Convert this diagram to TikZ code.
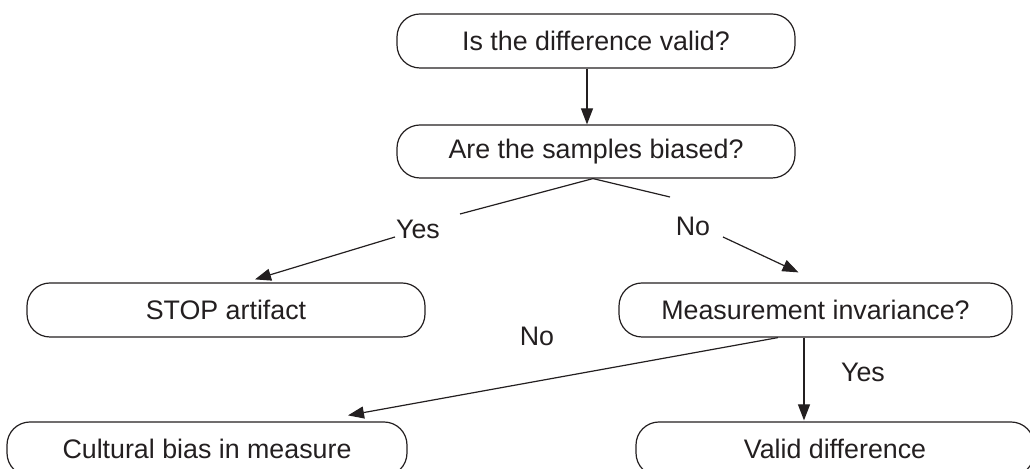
\documentclass[tikz,border=0pt]{standalone}
\usepackage{fontspec}
\setmainfont{Liberation Sans}
\usetikzlibrary{arrows.meta,calc}
\definecolor{ink}{HTML}{231F20}
\begin{document}
\begin{tikzpicture}[x=0.5pt,y=-0.5pt,
  box/.style={draw=ink,line width=0.6pt,rounded corners=11.5pt,minimum height=27pt,inner sep=0pt,
    font=\fontsize{13.4}{15}\selectfont,text=ink},
  lbl/.style={font=\fontsize{13.4}{15}\selectfont,text=ink,inner sep=0pt},
  conn/.style={draw=ink,line width=0.6pt},
  arr/.style={conn,-{Triangle[length=8pt,width=6pt]}}]
\useasboundingbox (0,0) rectangle (1030,469);
\node[box,minimum width=199pt] (top) at (596,41) {Is the difference valid?};
\node[box,minimum width=199pt,minimum height=26.5pt] (samp) at (596,151.5) {Are the samples biased?};
\node[box,minimum width=199pt] (stop) at (226,310) {STOP artifact};
\node[box,minimum width=196.5pt] (meas) at (815.5,310) {Measurement invariance?};
\node[box,minimum width=200pt] (cult) at (207,449) {Cultural bias in measure};
\node[box,minimum width=199pt] (valid) at (835,449) {Valid difference};
\node[lbl] (yesA) at (418,229) {Yes};
\node[lbl] (noA) at (693,226) {No};
\node[lbl] (noB) at (537,336) {No};
\node[lbl] (yesB) at (863,372) {Yes};
\coordinate (x587) at (587,0);
\coordinate (x804) at (804,0);
\coordinate (split) at ($(samp.south)+(-3,0)$);
\coordinate (yA) at (460,214);
\coordinate (yB) at (395,237);
\coordinate (nA) at (670,197);
\coordinate (nB) at (723,237);
\draw[arr] (top.south -| x587) -- (samp.north -| x587);
\draw[conn] (split) -- (yA);
\draw[arr] (yB) -- ($(stop.north)+(29,-3)$);
\draw[conn] (split) -- (nA);
\draw[arr] (nB) -- ($(meas.north)+(-17,-10)$);
\draw[arr] ($(meas.south)+(-37.5,0)$) -- ($(cult.north)+(141,-6)$);
\draw[arr] (meas.south -| x804) -- ($(valid.north -| x804)+(0,-1)$);
\end{tikzpicture}
\end{document}
